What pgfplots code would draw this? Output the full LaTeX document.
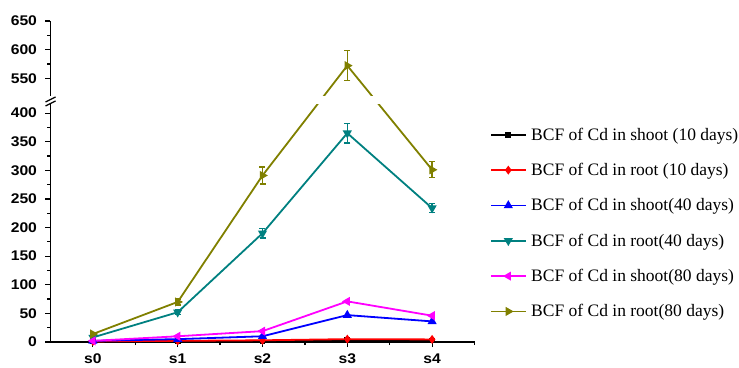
\documentclass[border=0pt]{standalone}
\usepackage{fontspec}
\setmainfont{Liberation Serif}
\newfontfamily\tickfont[FakeStretch=1.12]{Liberation Sans}
\usepackage{pgfplots}
\pgfplotsset{compat=1.18}
\definecolor{cteal}{RGB}{0,128,128}
\definecolor{colive}{RGB}{128,128,0}
\definecolor{cmag}{RGB}{255,0,255}
\begin{document}
\begin{tikzpicture}
\path[use as bounding box] (-50.5pt,-25pt) rectangle (688.5pt,342pt);
\begin{axis}[
  scale only axis, width=424pt, height=321pt, at={(0pt,0pt)},
  xmin=-0.5, xmax=4.5,
  axis x line*=bottom, axis y line*=left,
  axis line style={line width=1.4pt},
  tick align=outside,
  major tick length=5pt, minor tick length=3pt,
  every tick/.style={line width=1.2pt, black},
  /pgf/number format/assume math mode=true,
  ticklabel style={font=\tickfont\bfseries\fontsize{14}{16}\selectfont},
  yticklabel style={xshift=-5pt},
  xticklabel style={yshift=-3pt},
  y coord trafo/.code={\pgfmathparse{ifthenelse(#1>467,#1-89,#1)}},
  y coord inv trafo/.code={\pgfmathparse{ifthenelse(#1>378,#1+89,#1)}},
  ymin=0, ymax=650,
  xtick={0,1,2,3,4}, xticklabels={s0,s1,s2,s3,s4},
  minor xtick={0.5,1.5,2.5,3.5,4.5},
  ytick={0,50,100,150,200,250,300,350,400,550,600,650},
  yticklabels={0,50,100,150,200,250,300,350,400,550,600,650},
  minor ytick={25,75,125,175,225,275,325,375,575,625},
  every axis plot/.append style={line width=1.8pt},
  legend style={at={(1.03,0.68)}, anchor=north west, draw=none, fill=none,
    font=\fontsize{17.5}{19}\selectfont, row sep=17.5pt,
    cells={anchor=west}},
  legend image code/.code={\draw[mark repeat=2,mark phase=2,#1] plot coordinates {(0pt,0pt) (17pt,0pt) (35pt,0pt)};},
]
\addplot[black, mark=square*, mark size=2pt] coordinates {(0,1) (1,1.5) (2,2) (3,3) (4,2.5)};
\addlegendentry{\hspace{2pt}BCF of Cd in shoot (10 days)}
\addplot[red, mark=diamond*, mark size=3pt] coordinates {(0,1) (1,2) (2,3) (3,5) (4,4.5)};
\addlegendentry{\hspace{2pt}BCF of Cd in root (10 days)}
\addplot[blue, mark=triangle*, mark size=3.5pt] coordinates {(0,2) (1,5) (2,10) (3,47) (4,36)};
\addlegendentry{\hspace{2pt}BCF of Cd in shoot(40 days)}
\addplot[cteal, mark=triangle*, mark options={rotate=180}, mark size=3.5pt,
  error bars/.cd, y dir=both, y explicit,
  error bar style={line width=1.4pt},
  error mark options={rotate=90, mark size=3pt, line width=1.4pt}]
  coordinates {(0,8) +- (0,2) (1,52) +- (0,4) (2,190) +- (0,8) (3,365) +- (0,17) (4,234) +- (0,8)};
\addlegendentry{\hspace{2pt}BCF of Cd in root(40 days)}
\addplot[cmag, mark=triangle*, mark options={rotate=90}, mark size=3.5pt] coordinates {(0,2) (1,10) (2,19) (3,71) (4,46)};
\addlegendentry{\hspace{2pt}BCF of Cd in shoot(80 days)}
\addplot[colive, mark=triangle*, mark options={rotate=-90}, mark size=3.5pt,
  error bars/.cd, y dir=both, y explicit,
  error bar style={line width=1.4pt},
  error mark options={rotate=90, mark size=3pt, line width=1.4pt}]
  coordinates {(0,14) +- (0,3) (1,70) +- (0,5) (2,291) +- (0,15) (3,572) +- (0,26) (4,301) +- (0,14)};
\addlegendentry{\hspace{2pt}BCF of Cd in root(80 days)}
\end{axis}
\fill[white] (-3pt,237.5pt) rectangle (430pt,245.5pt);
\draw[line width=1.3pt] (-5pt,240pt) -- (5pt,245pt);
\draw[line width=1.3pt] (-5pt,236pt) -- (5pt,241pt);
\end{tikzpicture}
\end{document}
